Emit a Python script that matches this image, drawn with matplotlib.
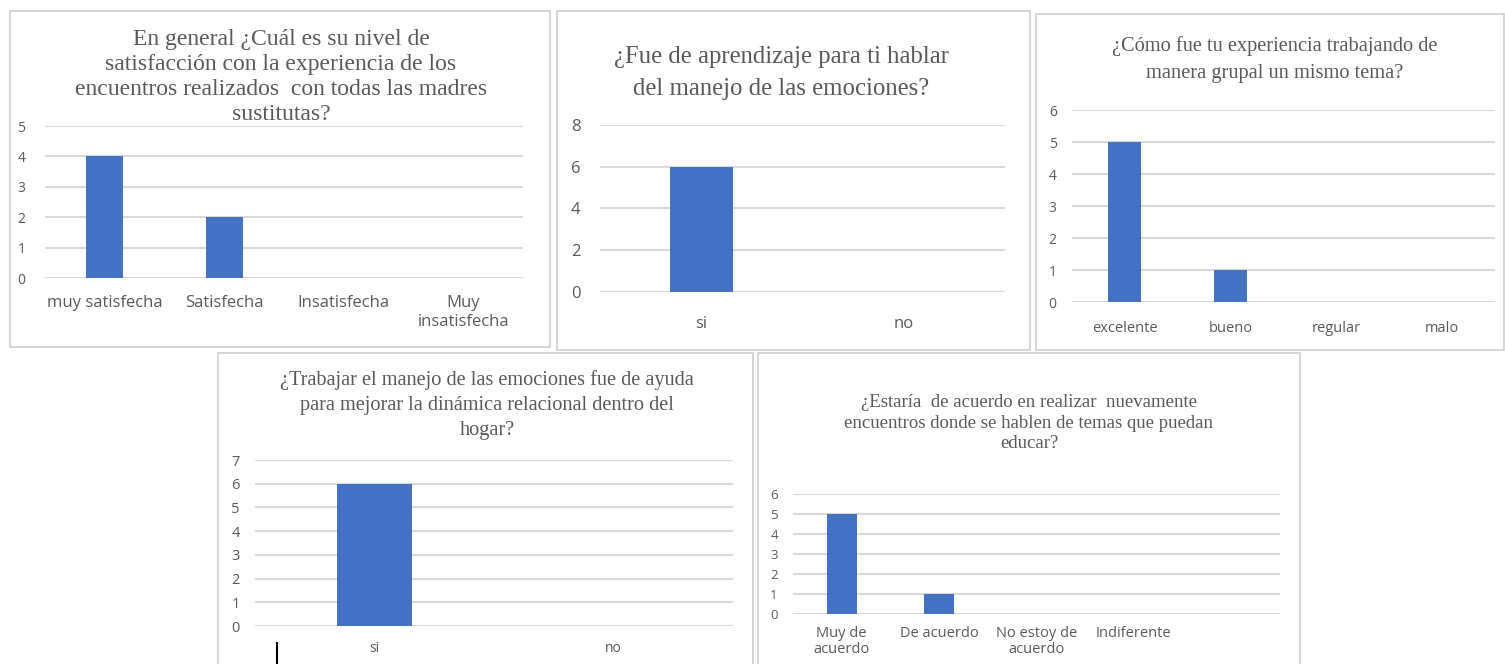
import matplotlib
matplotlib.use("Agg")
import matplotlib.pyplot as plt
from matplotlib.patches import Rectangle
from matplotlib.lines import Line2D

W, H = 1505, 664

# ---- data ----
t1 = "En general ¿Cuál es su nivel de\nsatisfacción con la experiencia de los\nencuentros realizados  con todas las madres\nsustitutas?"
c1 = ["muy satisfecha", "Satisfecha", "Insatisfecha", "Muy\ninsatisfecha"]
v1 = [4, 2, 0, 0]
y1 = [0, 1, 2, 3, 4, 5]

t2 = "¿Fue de aprendizaje para ti hablar\ndel manejo de las emociones?"
c2 = ["si", "no"]
v2 = [6, 0]
y2 = [0, 2, 4, 6, 8]

t3 = "¿Cómo fue tu experiencia trabajando de\nmanera grupal un mismo tema?"
c3 = ["excelente", "bueno", "regular", "malo"]
v3 = [5, 1, 0, 0]
y3 = [0, 1, 2, 3, 4, 5, 6]

t4 = "¿Trabajar el manejo de las emociones fue de ayuda\npara mejorar la dinámica relacional dentro del\nhogar?"
c4 = ["si", "no"]
v4 = [6, 0]
y4 = [0, 1, 2, 3, 4, 5, 6, 7]

t5 = "¿Estaría  de acuerdo en realizar  nuevamente\nencuentros donde se hablen de temas que puedan\neducar?"
c5 = ["Muy de\nacuerdo", "De acuerdo", "No estoy de\nacuerdo", "Indiferente", ""]
v5 = [5, 1, 0, 0, 0]
y5 = [0, 1, 2, 3, 4, 5, 6]

BAR = "#4472c4"
GRID = "#d9d9d9"
TXT = "#595959"
SERIF = ["Liberation Serif", "DejaVu Serif"]
SANS = ["Open Sans", "DejaVu Sans"]

fig = plt.figure(figsize=(W / 100, H / 100), dpi=100)
fig.patch.set_facecolor("white")

def fx(x):
    return x / W

def fy(y):
    return 1 - y / H

def border(x0, y0, x1, y1):
    fig.add_artist(Rectangle((fx(x0), fy(y1)), fx(x1 - x0), (y1 - y0) / H,
                             transform=fig.transFigure, fill=False,
                             edgecolor="#d0d0d0", lw=1.2))

def panel(box, cats, vals, yt, title, tcenter, tsize, tspace,
          xsize, xpad, xls, ysize, ypad):
    x0, y0, x1, y1 = box
    ax = fig.add_axes([fx(x0), fy(y1), fx(x1 - x0), (y1 - y0) / H])
    n = len(cats)
    ax.bar(range(n), vals, width=0.31, color=BAR, zorder=3)
    ax.set_xlim(-0.5, n - 0.5)
    ax.set_ylim(yt[0], yt[-1])
    ax.set_yticks(yt)
    ax.set_yticklabels([str(v) for v in yt], fontsize=ysize, color=TXT, family=SANS)
    ax.set_xticks(range(n))
    ax.set_xticklabels(cats, fontsize=xsize, color=TXT, family=SANS, linespacing=xls)
    ax.tick_params(axis="both", length=0)
    ax.tick_params(axis="x", pad=xpad)
    ax.tick_params(axis="y", pad=ypad)
    ax.grid(axis="y", color=GRID, lw=1.5, zorder=0)
    ax.set_axisbelow(True)
    for s in ax.spines.values():
        s.set_visible(False)
    ax.patch.set_alpha(0)
    fs_px = tsize * 100 / 72
    fig.text(fx(tcenter[0]), fy(tcenter[1]), title, ha="center", va="center",
             fontsize=tsize, color=TXT, family=SERIF,
             linespacing=tspace / (0.84 * fs_px))
    return ax

# borders
border(10, 11, 550, 347)
border(557, 11, 1030, 350)
border(1036, 14, 1504, 350)
border(218, 353, 753, 670)
border(758, 353, 1300, 670)

panel((45, 126, 523, 278), c1, v1, y1, t1, (281, 77), 17, 25, 12, 12, 1.25, 10, 14)
panel((600, 125, 1005, 292), c2, v2, y2, t2, (781, 73), 17.8, 33, 12, 17, 1.25, 12, 14)
panel((1072, 110, 1495, 302), c3, v3, y3, t3, (1275, 60), 14.7, 27, 10.5, 13.5, 1.25, 10, 11)
panel((255, 460, 733, 626), c4, v4, y4, t4, (487, 405), 14.6, 24, 10, 10.8, 1.25, 10.5, 11)
panel((793, 494, 1280, 614), c5, v5, y5, t5, (1029, 423), 13.5, 20, 10.5, 8.4, 1.12, 9.5, 11)

# cursor mark visible in the screenshot
fig.add_artist(Line2D([fx(277), fx(277)], [fy(643), fy(664)], transform=fig.transFigure,
                      color="black", lw=1.5))

fig.savefig("out.png", dpi=100, facecolor="white")
